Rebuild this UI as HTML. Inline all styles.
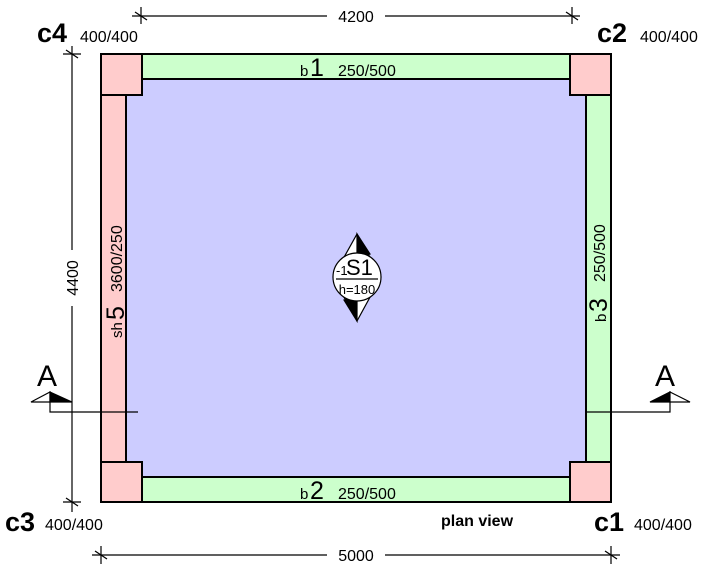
<!DOCTYPE html>
<html><head><style>body{margin:0;background:#fff}svg{display:block}text{font-family:"Liberation Sans",Arial,sans-serif;fill:#000}</style></head><body>
<svg width="713" height="579" viewBox="0 0 713 579" xmlns="http://www.w3.org/2000/svg">
<g stroke="#000" stroke-width="2">
<rect x="126" y="79" width="460" height="398" fill="#ccccff"/>
<rect x="142" y="54" width="428" height="25" fill="#ccffcc"/>
<rect x="142" y="477" width="428" height="25" fill="#ccffcc"/>
<rect x="586" y="95" width="25" height="367" fill="#ccffcc"/>
<rect x="101" y="95" width="25" height="367" fill="#ffcccc"/>
<rect x="101" y="54" width="41" height="41" fill="#ffcccc"/>
<rect x="570" y="54" width="41" height="41" fill="#ffcccc"/>
<rect x="101" y="462" width="41" height="40" fill="#ffcccc"/>
<rect x="570" y="462" width="41" height="40" fill="#ffcccc"/>
</g>
<g stroke="#000" stroke-width="1.2" fill="none">
<line x1="132" y1="16" x2="327" y2="16"/><line x1="385" y1="16" x2="580" y2="16"/>
<line x1="141" y1="7" x2="141" y2="24"/><line x1="135" y1="12" x2="147" y2="20"/>
<line x1="572" y1="7" x2="572" y2="24"/><line x1="566" y1="12" x2="578" y2="20"/>
<line x1="72" y1="46" x2="72" y2="250"/><line x1="72" y1="306" x2="72" y2="512"/>
<line x1="63" y1="54" x2="81" y2="54"/><line x1="66" y1="50" x2="78" y2="58"/>
<line x1="63" y1="502" x2="81" y2="502"/><line x1="66" y1="498" x2="78" y2="506"/>
<line x1="92" y1="555" x2="327" y2="555"/><line x1="385" y1="555" x2="620" y2="555"/>
<line x1="101" y1="546" x2="101" y2="564"/><line x1="95" y1="551" x2="107" y2="559"/>
<line x1="611" y1="546" x2="611" y2="564"/><line x1="605" y1="551" x2="617" y2="559"/>
<polyline points="50,402 50,412 138,412"/>
<polyline points="670,402 670,412 585,412"/>
</g>
<g stroke="#000" stroke-width="1.2">
<polygon points="31,402 50,392 50,402" fill="#fff"/>
<polygon points="50,392 72,402 50,402" fill="#000"/>
<polygon points="650,402 670,392 670,402" fill="#000"/>
<polygon points="670,392 690,402 670,402" fill="#fff"/>
<polygon points="357,234 381,277 357,321 333,277" fill="#fff"/>
<polygon points="357,234 370,254 357,258" fill="#000"/>
<polygon points="357,321 344,300 357,297" fill="#000"/>
<ellipse cx="357" cy="277" rx="24" ry="24" fill="#fff"/>
<line x1="336" y1="279" x2="378" y2="279"/>
</g>
<text x="336" y="275" font-size="13">-1</text><text x="346" y="275" font-size="22">S1</text>
<text x="357" y="294" font-size="13" text-anchor="middle">h=180</text>
<text x="356" y="22" font-size="16" text-anchor="middle">4200</text>
<text x="356" y="561" font-size="16" text-anchor="middle">5000</text>
<text transform="translate(78,278) rotate(-90)" font-size="16" text-anchor="middle">4400</text>
<text x="37" y="42" font-size="27" font-weight="bold">c4</text><text x="80" y="42" font-size="16">400/400</text>
<text x="597" y="42" font-size="27" font-weight="bold">c2</text><text x="640" y="42" font-size="16">400/400</text>
<text x="5" y="531" font-size="27" font-weight="bold">c3</text><text x="45" y="530" font-size="16">400/400</text>
<text x="594" y="531" font-size="27" font-weight="bold">c1</text><text x="634" y="530" font-size="16">400/400</text>
<text x="441" y="526" font-size="16" font-weight="bold">plan view</text>
<text x="37" y="386" font-size="30">A</text><text x="655" y="386" font-size="30">A</text>
<text x="300" y="76" font-size="15">b</text><text x="310" y="76" font-size="25">1</text><text x="338" y="76" font-size="16">250/500</text>
<text x="300" y="499" font-size="15">b</text><text x="310" y="499" font-size="25">2</text><text x="338" y="499" font-size="16">250/500</text>
<text transform="translate(606,322) rotate(-90)" font-size="15">b</text>
<text transform="translate(607,312) rotate(-90)" font-size="25">3</text>
<text transform="translate(605,282) rotate(-90)" font-size="16">250/500</text>
<text transform="translate(122,338) rotate(-90)" font-size="15">sh</text>
<text transform="translate(124,320) rotate(-90)" font-size="25">5</text>
<text transform="translate(122,292) rotate(-90)" font-size="16">3600/250</text>
</svg>
</body></html>
